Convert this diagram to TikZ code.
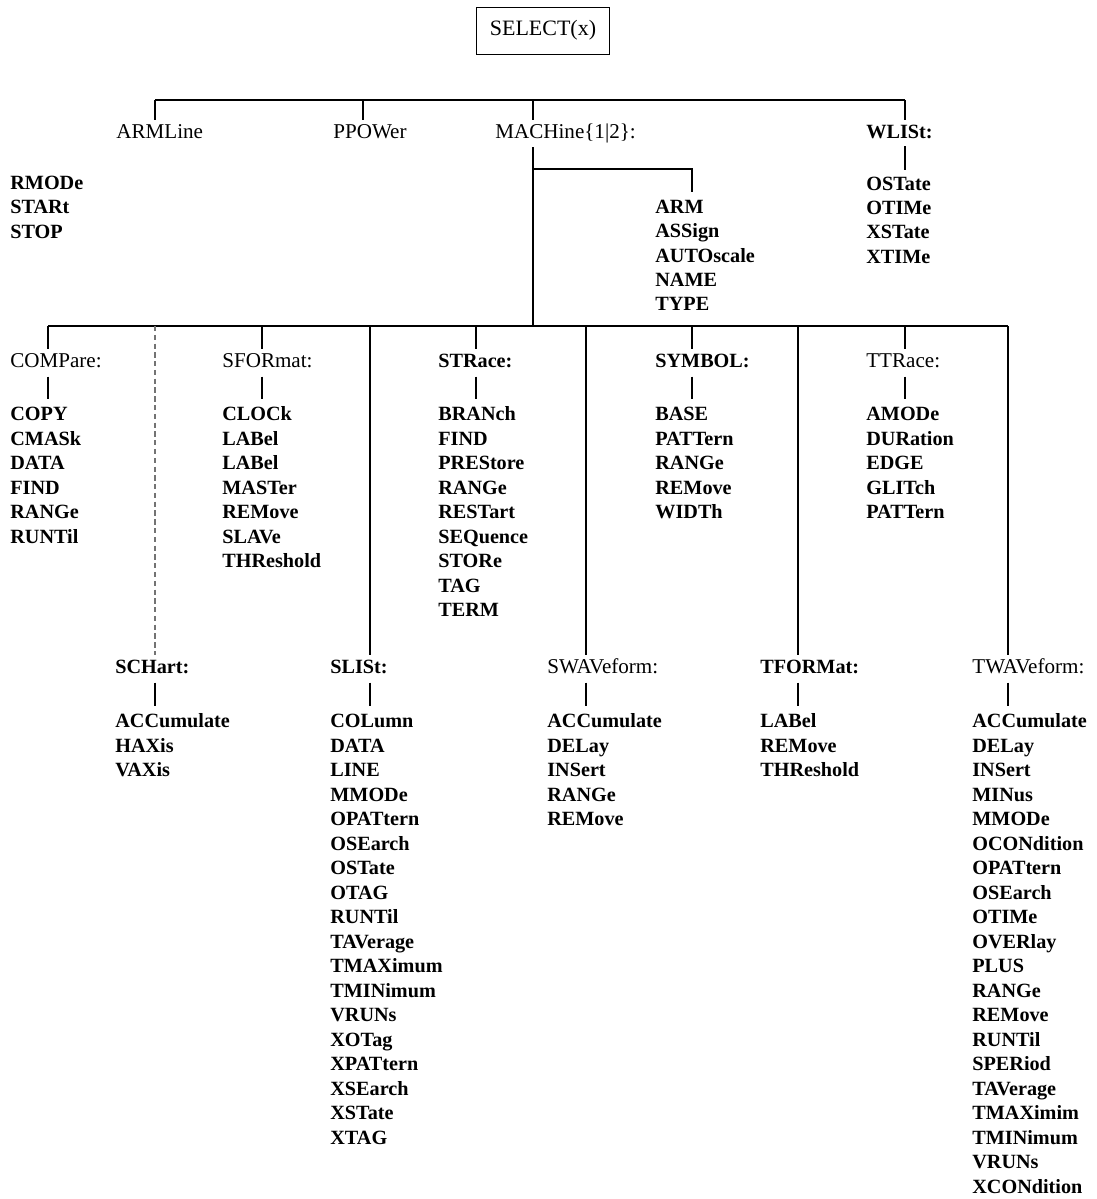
\documentclass[tikz,border=0pt]{standalone}
\usepackage{fontspec}
\setmainfont{Liberation Serif}
\usetikzlibrary{positioning}

\begin{document}
\begin{tikzpicture}[
  x=0.02cm, y=-0.02cm,
  every node/.style={inner sep=0pt, text height=8pt, text depth=2.5pt, anchor=base west},
  head/.style={font=\fontsize{12}{14}\selectfont},
  headb/.style={font=\fontsize{11.5}{14}\selectfont\bfseries},
  entry/.style={font=\fontsize{11.5}{14}\selectfont\bfseries},
  link/.style={line width=0.9pt},
  faint/.style={link, densely dashed, black!55},
  root/.style={draw, line width=0.8pt, anchor=center, minimum width=2.66cm, minimum height=0.94cm,
    font=\fontsize{12.5}{14}\selectfont}
]
\useasboundingbox (0,0) rectangle (1096,1199);

\node[root] (sel) at (543,31) {SELECT(x)};

% first level
\node[head]  (arml) at (116,139) {ARMLine};
\node[head]  (ppow) at (333,139) {PPOWer};
\node[head]  (mach) at (495,139) {MACHine\{1|2\}:};
\node[headb] (wlis) at (866,139) {WLISt:};

\coordinate (top-arml) at (155,100);
\coordinate (top-ppow) at (363,100);
\coordinate (top-mach) at (533,100);
\coordinate (top-wlis) at (905,100);
\draw[link] (top-arml) -- (top-wlis);
\foreach \n in {arml,ppow,mach,wlis}
  \draw[link, shorten >=2.5pt] (top-\n) -- (top-\n |- \n.north);

\foreach \t [count=\i from 0] in {RMODe,STARt,STOP}
  \node[entry] (rmo\i) at (10,189.5+24.5*\i) {\t};
\foreach \t [count=\i from 0] in {OSTate,OTIMe,XSTate,XTIMe}
  \node[entry] (wli\i) at (866,190.5+24.2*\i) {\t};
\draw[link, shorten <=1.5pt, shorten >=3.5pt] (top-wlis |- wlis.south) -- (top-wlis |- wli0.north);

% machine branch
\foreach \t [count=\i from 0] in {ARM,ASSign,AUTOscale,NAME,TYPE}
  \node[entry] (arm\i) at (655,213.5+24.3*\i) {\t};
\coordinate (fork) at (533,169);
\coordinate (armdrop) at (692,192);
\coordinate (bar-mach) at (533,326);
\draw[link, shorten <=2pt] (top-mach |- mach.south) -- (bar-mach);
\draw[link] (fork) -| (armdrop);

% second level
\node[head]  (cmp) at (10,367.5)  {COMPare:};
\node[head]  (sfo) at (222,367.5) {SFORmat:};
\node[headb] (str) at (438,367.5) {STRace:};
\node[headb] (sym) at (655,367.5) {SYMBOL:};
\node[head]  (ttr) at (866,367.5) {TTRace:};

\node[headb] (sch) at (115,673.5) {SCHart:};
\node[headb] (sli) at (330,673.5) {SLISt:};
\node[head]  (swa) at (547,673.5) {SWAVeform:};
\node[headb] (tfo) at (760,673.5) {TFORMat:};
\node[head]  (twa) at (972,673.5) {TWAVeform:};

\foreach \t [count=\i from 0] in {COPY,CMASk,DATA,FIND,RANGe,RUNTil}
  \node[entry] (cmp\i) at (10,420.5+24.5*\i) {\t};
\foreach \t [count=\i from 0] in {CLOCk,LABel,LABel,MASTer,REMove,SLAVe,THReshold}
  \node[entry] (sfo\i) at (222,420.5+24.5*\i) {\t};
\foreach \t [count=\i from 0] in {BRANch,FIND,PREStore,RANGe,RESTart,SEQuence,STORe,TAG,TERM}
  \node[entry] (str\i) at (438,420.5+24.5*\i) {\t};
\foreach \t [count=\i from 0] in {BASE,PATTern,RANGe,REMove,WIDTh}
  \node[entry] (sym\i) at (655,420.5+24.5*\i) {\t};
\foreach \t [count=\i from 0] in {AMODe,DURation,EDGE,GLITch,PATTern}
  \node[entry] (ttr\i) at (866,420.5+24.5*\i) {\t};

\foreach \t [count=\i from 0] in {ACCumulate,HAXis,VAXis}
  \node[entry] (sch\i) at (115,727.5+24.5*\i) {\t};
\foreach \t [count=\i from 0] in {COLumn,DATA,LINE,MMODe,OPATtern,OSEarch,OSTate,OTAG,RUNTil,
    TAVerage,TMAXimum,TMINimum,VRUNs,XOTag,XPATtern,XSEarch,XSTate,XTAG}
  \node[entry] (sli\i) at (330,727.5+24.5*\i) {\t};
\foreach \t [count=\i from 0] in {ACCumulate,DELay,INSert,RANGe,REMove}
  \node[entry] (swa\i) at (547,727.5+24.5*\i) {\t};
\foreach \t [count=\i from 0] in {LABel,REMove,THReshold}
  \node[entry] (tfo\i) at (760,727.5+24.5*\i) {\t};
\foreach \t [count=\i from 0] in {ACCumulate,DELay,INSert,MINus,MMODe,OCONdition,OPATtern,OSEarch,
    OTIMe,OVERlay,PLUS,RANGe,REMove,RUNTil,SPERiod,TAVerage,TMAXimim,TMINimum,VRUNs,XCONdition}
  \node[entry] (twa\i) at (972,727.5+24.5*\i) {\t};

% lower bar
\foreach \n/\x in {cmp/48,sch/155,sfo/262,sli/370,str/476,swa/586,sym/692,tfo/798,ttr/905,twa/1008}
  \coordinate (bar-\n) at (\x,326);
\draw[link] (bar-cmp) -- (bar-twa);
\foreach \n in {cmp,sfo,sli,str,swa,sym,tfo,ttr,twa}
  \draw[link, shorten >=2.5pt] (bar-\n) -- (bar-\n |- \n.north);
\draw[faint, shorten >=2.5pt] (bar-sch) -- (bar-sch |- sch.north);
\foreach \n in {cmp,sch,sfo,sli,str,swa,sym,tfo,ttr,twa}
  \draw[link, shorten <=2.5pt, shorten >=4pt] (bar-\n |- \n.south) -- (bar-\n |- \n0.north);

\end{tikzpicture}
\end{document}
